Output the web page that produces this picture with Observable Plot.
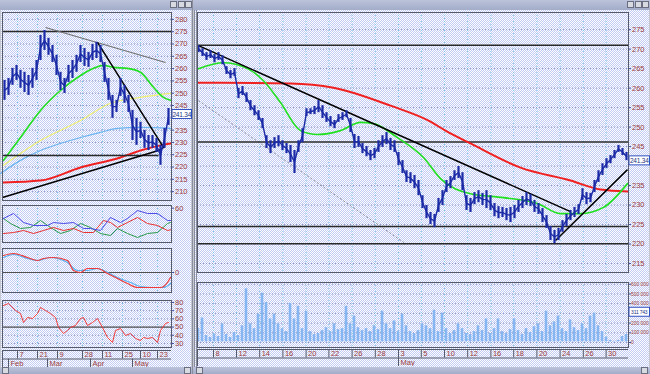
<!DOCTYPE html>
<html><head><meta charset="utf-8">
<script src="https://cdn.jsdelivr.net/npm/d3@7"></script>
<script src="https://cdn.jsdelivr.net/npm/@observablehq/plot@0.6"></script>
<style>
body{margin:0;background:#c4c6d0;}
#root{position:relative;width:650px;height:374px;overflow:hidden;background:#c4c6d0;font-family:"Liberation Sans",Arial,sans-serif;}
.pat{position:absolute;background:repeating-conic-gradient(#c2cbf3 0% 25%, #ffffff 0% 50%) 0 0/2px 2px;}
.bar{position:absolute;background:linear-gradient(#bcc3db,#a3acc8);}
.btn{position:absolute;width:7px;height:7px;background:#d8dae2;border:1px solid #6a6e80;box-sizing:border-box;}
.div{position:absolute;background:#8a8e9c;}
</style></head><body><div id="root"></div>
<script>
// ---------------- DATA ----------------
// Left window (daily) : bar index -> high / low
const lHi = [255.2,256.0,260.1,261.3,259.3,258.5,257.2,260.1,263.3,273.5,275.5,272.3,269.4,265.4,258.5,256.0,261.3,263.3,265.4,269.4,268.2,266.6,269.8,270.7,269.4,262.5,256.0,249.1,247.1,256.0,253.2,249.1,243.0,239.8,238.2,234.9,232.8,232.8,231.6,228.8,235.7,243.8];
const lLo = [247.1,249.1,253.2,255.2,252.0,250.3,249.1,252.0,255.2,263.3,267.4,265.4,262.5,257.2,251.1,249.9,254.4,256.0,258.5,262.5,260.9,260.5,263.3,264.1,262.5,254.4,247.1,239.8,242.2,248.7,245.9,242.2,230.8,228.8,231.6,227.6,226.7,227.6,226.0,220.7,227.6,236.9];
const lGreenX = [-0.25,4,9,14,19,22.25,24.75,27.25,30.75,34,37.25,39.75,41.5];
const lGreenY = [222.7,232.0,243.0,251.1,257.2,260.1,261.3,260.5,260.1,258.5,252.4,248.3,247.1];
const lYellowX = [-0.25,9,19,26.5,34,41.5];
const lYellowY = [220.7,230.8,238.9,245.9,248.3,249.9];
const lBlueX = [-1,4,9,14,19,24,28.25,34,41.5];
const lBlueY = [217.4,222.7,226.7,229.6,232.0,234.1,235.7,236.1,235.7];
const lRedX = [-0.25,9,19,29,34,39,41.5];
const lRedY = [213.7,214.5,219.8,223.9,226.7,228.8,229.6];
const lTrendBlack = [{x1:23.25,y1:270.7,x2:39.75,y2:228.0},{x1:-0.5,y1:207.6,x2:38.5,y2:226.7},{x1:38.5,y1:226.7,x2:40,y2:228.2}];
const lTrendGray = [{x1:10.25,y1:276.7,x2:40.25,y2:262.5}];
const lLevelsFull = [275.1];
const lLevelsPart = [{x1:-0.5,y1:224.7,x2:38.5,y2:224.7}];
const lTicks = [210,215,220,225,230,235,240,245,250,255,260,265,270,275,280];
const lLast = 241.34;
// stochastic-like panel
const sBlueX = [-0.25,2.25,4.75,7.25,10.75,12.25,14.75,17.25,19.75,21.5,24,26.5,29,30.75,33.25,35.75,38.25,40.75,41.5];
const sBlueY = [40.4,49.9,32.8,27.2,27.2,32.8,30.9,32.8,21.5,21.5,17.7,42.3,32.8,40.4,55.5,49.9,49.9,36.6,36.6];
const sRedX = [-0.25,2.25,4.75,7.25,9.75,12.25,14.75,17.25,19.75,22.25,24.75,26.5,28.25,30.75,33.25,35.75,38.25,40.75,41.5];
const sRedY = [12.0,13.9,17.7,12.0,17.7,23.4,17.7,21.5,13.9,13.9,36.6,32.8,23.4,32.8,42.3,30.9,27.2,17.7,19.0];
const sGreenX = [-0.25,1.5,4,6.5,9,11.5,14,16.5,19,21.5,24,26.5,28.25,30.75,33.25,35.75,38.25,40.75,41.5];
const sGreenY = [40.4,30.9,21.5,23.4,36.6,23.4,12.0,17.7,30.9,23.4,12.0,8.2,21.5,12.0,4.5,12.0,13.9,30.9,33.0];
const sTicks = [60];
// MACD-like panel
const mRedX = [-0.25,2.25,5.75,8.25,9.75,12.25,15.75,17.25,19,20.75,23.25,25.75,28.25,30.75,33.25,36.5,39,40.75,41.5];
const mRedY = [4.25,4.75,3.75,3.0,3.5,3.75,3.0,0.5,0,1.0,1.0,-0.25,-1.5,-2.75,-3.75,-3.75,-3.75,-2.5,-1.25];
const mBlueX = [-0.25,2.25,5.75,8.25,11.5,13.25,15.75,18.25,20.75,23.25,25.75,28.25,31.5,34,37.25,39.75,41.5];
const mBlueY = [3.75,4.5,3.5,3.0,3.75,3.5,2.5,0.5,0.5,1.0,0,-1.25,-2.5,-3.5,-3.75,-3.75,-2.75];
const mTicks = [0];
// RSI panel
const rsiX = [-0.25,1,2.75,4,4.75,5.75,7,8.25,9,10.25,11.5,12.75,13.5,14.75,15.75,16.5,17.75,19,19.75,20.75,22,23.25,24.5,25.75,27,27.75,29,30.25,31.5,32.75,34,34.75,35.75,37,38.25,39,40.25,41];
const rsiY = [76.3,78.7,70.2,66.5,55.6,61.7,60.4,66.5,73.9,70.2,66.5,61.7,49.5,42.2,45.8,49.5,51.9,60.4,61.7,51.9,55.6,60.4,49.5,37.3,31.2,45.8,48.3,39.7,42.2,36.1,33.6,37.3,36.1,37.3,31.2,45.8,54.4,55.6];
const rsiTicks = [30,40,50,60,70,80];
// left date axis
const lDaySeps = [3.25,8.25,13.25,19.5,24.5,29.5,34,38.25];
const lDays = ["7","21","9","28","11","25","10","23"];
const lMonthSeps = [1,10.75,21.5,32];
const lMonths = ["Feb","Mar","Apr","May"];

// Right window (intraday) : bar index -> high / low
const rHi = [270.9,270.1,269.1,269.6,268.6,269.1,268.3,265.5,264.5,265.0,
259.9,260.4,258.8,256.8,255.5,254.2,252.2,247.8,246.5,247.3,
247.8,246.5,245.8,245.3,244.0,246.5,249.6,254.7,254.7,255.3,
256.8,255.5,253.7,252.7,251.7,253.2,253.7,254.2,252.2,248.1,
247.6,245.8,245.0,244.0,244.5,246.5,247.8,248.6,247.1,246.5,
243.5,241.4,238.8,238.3,237.6,236.3,232.4,229.9,228.1,227.6,
231.7,233.7,236.3,237.3,238.8,239.9,238.3,232.4,231.7,233.2,
233.7,233.0,233.7,232.4,230.4,229.6,229.4,229.1,229.4,229.9,
231.2,232.2,233.2,232.7,231.2,230.4,229.1,227.3,224.5,223.5,
224.0,226.0,227.6,228.6,229.4,230.1,234.2,233.2,233.0,236.3,
238.8,240.6,241.9,242.7,244.0,245.3,244.5,243.5];
const rLo = [269.1,268.1,267.1,267.6,266.5,267.1,266.0,263.5,262.4,263.0,
257.3,258.1,256.3,254.2,252.9,251.7,249.6,244.5,243.2,244.5,
245.0,244.0,243.2,240.9,238.1,243.5,246.0,252.7,253.2,253.2,
253.7,252.2,251.2,250.1,249.6,251.2,251.7,252.4,248.6,244.5,
244.8,243.2,242.4,241.4,241.9,243.5,244.8,245.5,244.0,243.5,
240.1,238.1,235.8,235.5,234.2,232.4,229.1,226.5,225.0,224.2,
228.1,229.9,233.2,234.2,236.3,236.8,233.7,228.6,228.1,230.1,
230.6,229.9,229.1,228.6,227.0,226.5,226.8,226.0,225.5,226.5,
228.1,229.1,229.9,229.6,228.1,227.6,225.5,224.0,220.9,220.1,
220.9,223.0,224.5,226.0,226.8,227.6,231.2,230.1,230.6,233.2,
235.8,237.6,239.4,240.6,241.9,243.5,242.7,241.4];
const rVol = [150,260,80,60,90,70,200,90,60,110,
80,180,560,200,150,300,515,420,250,300,
200,150,120,410,250,380,150,330,120,90,
100,130,160,120,200,140,150,380,200,280,
160,130,150,120,180,140,330,200,150,230,
120,300,180,120,100,130,200,180,150,340,
120,310,150,100,130,200,150,100,90,120,
180,130,250,100,150,250,120,100,140,250,
130,90,150,110,170,200,120,330,180,220,
280,150,120,240,160,130,200,150,280,310,
180,120,60,30,20,30,70,90]; // thousands
const rRedX = [0,23,33.75,48,58,61.75,68,80.5,93,100.5,107.25];
const rRedY = [261.4,261.2,260.1,255.5,251.4,249.1,245.8,239.6,236.3,234.0,233.5];
const rGreenX = [0,6.25,12.25,16.25,20.5,25.5,29.75,35.5,40.5,43.75,49.75,56.25,60.5,68,76.25,84.75,90.5,95.5,101.25,107.25];
const rGreenY = [265.0,266.5,265.0,261.9,256.3,249.1,248.1,249.1,251.2,250.9,247.3,242.2,236.8,232.9,231.9,230.4,227.8,227.8,229.4,235.5];
const rTrendBlack = [{x1:0,y1:270.9,x2:93,y2:228.3},{x1:89.25,y1:220.9,x2:107.25,y2:239.1}];
const rTrendDash = [{x1:0,y1:256.8,x2:51.75,y2:220.1}];
const rLevels = [271.0,246.2,224.5,220.1];
const rTicks = [215,220,225,230,235,240,245,250,255,260,265,270,275];
const rVolTicks = [0,100000,200000,300000,400000,500000,600000];
const rLast = 241.34;
const rVolTag = 311743;
const rDaySeps = [3.75,9.5,15.3,21.1,26.9,32.6,38.4,44.2,50.0,55.7,61.5,67.3,73.1,78.8,84.6,90.4,96.2,101.9];
const rDays = ["8","12","14","16","20","22","26","28","3","5","10","12","16","18","20","24","26","30"];
const rMonthSeps = [50.0];
const rMonths = ["May"];

// ---------------- LAYOUT HELPERS ----------------
const root = document.getElementById("root");
const FONT = "Liberation Sans, Arial, sans-serif";
const LBL = "#9a3c3c";
function div(cls, l, t, w, h){ const d=document.createElement("div"); d.className=cls; Object.assign(d.style,{left:l+"px",top:t+"px",width:w+"px",height:h+"px"}); root.appendChild(d); return d; }
function add(svg, left, top){ svg.style.position="absolute"; svg.style.left=left+"px"; svg.style.top=top+"px"; root.appendChild(svg); }
function opts(w,h,mr,xd,yd,marks){
  return {width:w,height:h,marginLeft:0,marginRight:mr,marginTop:0,marginBottom:0,
    x:{domain:xd, axis:null}, y:{domain:yd, axis:null},
    style:{background:"transparent", fontSize:"7.5px", fontFamily:FONT, overflow:"visible"}, marks};
}
const pts = (xs, ys) => xs.map((x,k)=>({x, y: ys[k]}));
const axisR = (ticks, fmt, fs, pad) => Plot.axisY(ticks, {anchor:"right", tickSize:2, tickPadding:pad ?? 1.5, stroke:"#4050a0", fill:LBL, fontSize:fs||7.5, tickFormat: fmt || (d=>String(d)), label:null});
const gy = (t) => Plot.gridY(t, {stroke:"#8088b8", strokeOpacity:0.9, strokeDasharray:"1 2"});
const gx = (t) => Plot.gridX(t, {stroke:"#78c8e6", strokeOpacity:1, strokeDasharray:"1 2"});
const frame = () => Plot.frame({stroke:"#555a6a"});
function tag(val, txt, fs){
  return (index, scales, values, dims) => {
    const y = scales.y(val);
    const x0 = dims.width - dims.marginRight + 1;
    const w = dims.marginRight - 1.5;
    const g = d3.create("svg:g");
    g.append("rect").attr("x",x0).attr("y",y-4.5).attr("width",w).attr("height",9)
      .attr("fill","#ffffff").attr("stroke","#3050c0");
    g.append("text").attr("x",x0+w/2).attr("y",y+2.5).attr("text-anchor","middle")
      .attr("font-size",fs||6.5).attr("font-family",FONT).attr("letter-spacing","-0.2")
      .attr("fill","#203080").text(txt);
    return g.node();
  };
}
const PRICE = "#1b2aa6";
function priceMarks(hi, lo){
  const bars = hi.map((h,i)=>({i, hi:h, lo:lo[i], mid:(h+lo[i])/2}));
  return [
    Plot.ruleX(bars, {x:"i", y1:"lo", y2:"hi", stroke:PRICE, strokeWidth:2.2}),
    Plot.line(bars, {x:"i", y:"mid", stroke:PRICE, strokeWidth:1.4})
  ];
}

// ---------------- WINDOW CHROME ----------------
div("pat", 1, 10, 190, 357);
div("pat", 194, 10, 455, 357);
div("bar", 0, 0, 192, 10);
div("bar", 193, 0, 457, 10);
[170,178,185].forEach(x=>div("btn", x, 1, 7, 7));
[627,635,642].forEach(x=>div("btn", x, 1, 7, 7));
div("div", 192, 0, 1, 374);
div("div", 194, 10, 1, 357);
div("div", 196, 10, 1, 357);
div("bar", 0, 367, 192, 7);
div("bar", 193, 367, 457, 7);
div("btn", 2, 367, 7, 7); div("btn", 184, 367, 7, 7);
div("btn", 196, 367, 7, 7); div("btn", 641, 367, 7, 7);

// ---------------- LEFT WINDOW ----------------
const LX = [-0.5, 41.75];
add(Plot.plot(opts(190, 188, 21, LX, [206.4, 282.8], [
  gy(lTicks), gx(lDaySeps),
  Plot.line(pts(lRedX,lRedY), {x:"x", y:"y", stroke:"#f02020", strokeWidth:2, curve:"monotone-x"}),
  Plot.line(pts(lBlueX,lBlueY), {x:"x", y:"y", stroke:"#6ab4f0", strokeWidth:1.2, curve:"monotone-x"}),
  Plot.line(pts(lYellowX,lYellowY), {x:"x", y:"y", stroke:"#f0f070", strokeWidth:1.2, curve:"monotone-x"}),
  Plot.line(pts(lGreenX,lGreenY), {x:"x", y:"y", stroke:"#20e020", strokeWidth:1.6, curve:"monotone-x"}),
  Plot.ruleY(lLevelsFull, {stroke:"#2a2a2a", strokeWidth:1.5}),
  Plot.link(lLevelsPart, {x1:"x1", y1:"y1", x2:"x2", y2:"y2", stroke:"#2a2a2a", strokeWidth:1.5}),
  Plot.link(lTrendGray, {x1:"x1", y1:"y1", x2:"x2", y2:"y2", stroke:"#707070", strokeWidth:1.2}),
  Plot.link(lTrendBlack, {x1:"x1", y1:"y1", x2:"x2", y2:"y2", stroke:"#000", strokeWidth:1.5}),
  ...priceMarks(lHi, lLo),
  frame(), axisR(lTicks.filter(t => t !== 240)),
  tag(lLast, lLast.toFixed(2))
])), 2, 12);

add(Plot.plot(opts(190, 37, 21, LX, [-5, 65], [
  gx(lDaySeps),
  Plot.line(pts(sGreenX,sGreenY), {x:"x", y:"y", stroke:"#2a9a4a", strokeWidth:1}),
  Plot.line(pts(sRedX,sRedY), {x:"x", y:"y", stroke:"#e83030", strokeWidth:1}),
  Plot.line(pts(sBlueX,sBlueY), {x:"x", y:"y", stroke:"#4a4ae8", strokeWidth:1}),
  frame(), axisR(sTicks)
])), 2, 205);

add(Plot.plot(opts(190, 44, 21, LX, [-5, 6], [
  gx(lDaySeps),
  Plot.ruleY(mTicks, {stroke:"#505050", strokeWidth:1.2}),
  Plot.line(pts(mBlueX,mBlueY), {x:"x", y:"y", stroke:"#58b0f0", strokeWidth:1.2, curve:"monotone-x"}),
  Plot.line(pts(mRedX,mRedY), {x:"x", y:"y", stroke:"#f03a3a", strokeWidth:1.2, curve:"monotone-x"}),
  frame(), axisR(mTicks)
])), 2, 248);

add(Plot.plot(opts(190, 47, 21, LX, [25.1, 82.4], [
  gy(rsiTicks), gx(lDaySeps),
  Plot.ruleY([50], {stroke:"#505050", strokeWidth:1.2}),
  Plot.line(pts(rsiX,rsiY), {x:"x", y:"y", stroke:"#f03a3a", strokeWidth:1}),
  frame(), axisR(rsiTicks)
])), 2, 300);

function dateRow(xd, w, daySeps, days, monthSeps, months){
  return Plot.plot({width:w, height:17, marginLeft:0, marginRight:0, marginTop:0, marginBottom:0,
    x:{domain:xd, axis:null}, y:{domain:[0,2], axis:null},
    style:{background:"transparent", fontSize:"7.5px", fontFamily:FONT},
    marks:[
      Plot.ruleY([1], {stroke:"#555a6a"}),
      Plot.ruleX(daySeps, {y1:1, y2:2, stroke:"#555a6a"}),
      Plot.text(days, {x:(d,k)=>daySeps[k], y:1.5, text:d=>d, textAnchor:"start", dx:2, fill:LBL, fontSize:7.5}),
      Plot.ruleX(monthSeps, {y1:0, y2:1, stroke:"#555a6a"}),
      Plot.text(months, {x:(d,k)=>monthSeps[k], y:0.5, text:d=>d, textAnchor:"start", dx:2, fill:LBL, fontSize:7.5}),
      Plot.frame({stroke:"#555a6a"})
    ]});
}
add(dateRow(LX, 169, lDaySeps, lDays, lMonthSeps, lMonths), 2, 350);

// ---------------- RIGHT WINDOW ----------------
const RX = [-0.25, 107.5];
add(Plot.plot(opts(453, 260, 22, RX, [212.7, 279.4], [
  gy(rTicks), gx(rDaySeps),
  Plot.link(rTrendDash, {x1:"x1", y1:"y1", x2:"x2", y2:"y2", stroke:"#8a8a9a", strokeWidth:1, strokeDasharray:"2 2"}),
  Plot.ruleY(rLevels, {stroke:"#2a2a2a", strokeWidth:1.5}),
  Plot.line(pts(rRedX,rRedY), {x:"x", y:"y", stroke:"#f02020", strokeWidth:2, curve:"monotone-x"}),
  Plot.line(pts(rGreenX,rGreenY), {x:"x", y:"y", stroke:"#20e020", strokeWidth:1.6, curve:"monotone-x"}),
  Plot.link(rTrendBlack, {x1:"x1", y1:"y1", x2:"x2", y2:"y2", stroke:"#000", strokeWidth:1.5}),
  ...priceMarks(rHi, rLo),
  frame(), axisR(rTicks.filter(t => t !== 240)),
  tag(rLast, rLast.toFixed(2))
])), 197, 12);

const volFmt = d => d3.format(",")(d).replace(/,/g, " ");
add(Plot.plot(opts(453, 65, 22, RX, [-51000, 618000], [
  gy(rVolTicks), gx(rDaySeps),
  Plot.rectY(rVol, {x1:(d,i)=>i-0.5, x2:(d,i)=>i+0.5, y1:0, y2:d=>d*1000, fill:"#86b6f2", inset:0.7}),
  frame(), axisR(rVolTicks.filter(t => t !== 300000), volFmt, 4.9, 0.5),
  tag(rVolTag, volFmt(rVolTag), 5)
])), 197, 282);

add(dateRow(RX, 431, rDaySeps, rDays, rMonthSeps, rMonths), 197, 349);
</script></body></html>
